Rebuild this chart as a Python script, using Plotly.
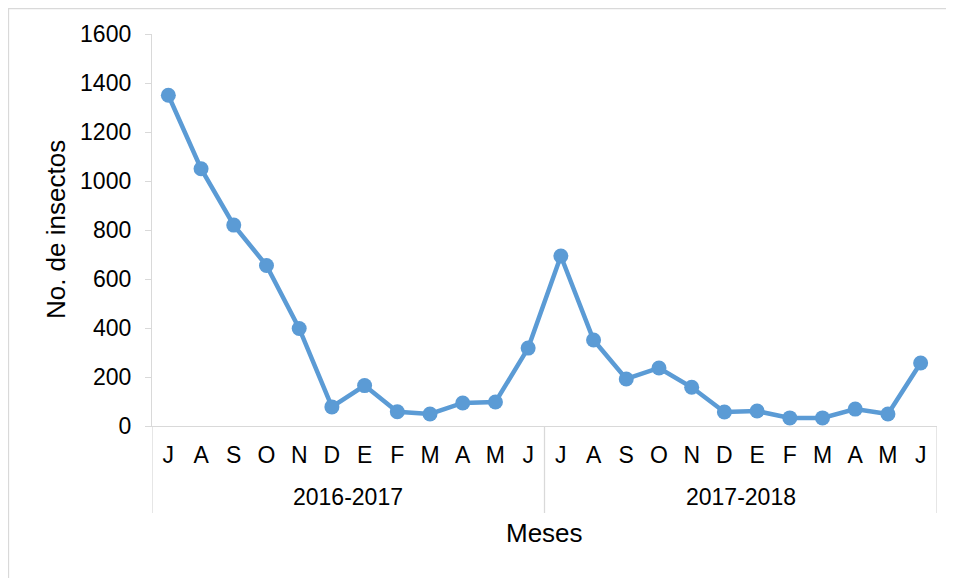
import plotly.graph_objects as go

months = ["J", "A", "S", "O", "N", "D", "E", "F", "M", "A", "M", "J",
          "J", "A", "S", "O", "N", "D", "E", "F", "M", "A", "M", "J"]
seasons = ["2016-2017", "2017-2018"]
insectos = [1350, 1050, 820, 655, 398, 78, 165, 58, 49, 94, 98, 318,
            694, 351, 192, 237, 158, 57, 61, 33, 33, 69, 49, 257]
y_ticks = [0, 200, 400, 600, 800, 1000, 1200, 1400, 1600]

x_idx = list(range(len(months)))
FONT = "Arial, Liberation Sans, sans-serif"
GRAY = "#d9d9d9"

fig = go.Figure()
fig.add_trace(go.Scatter(
    x=x_idx, y=insectos, mode="lines+markers",
    line=dict(color="#5b9bd5", width=4.5),
    marker=dict(color="#5b9bd5", size=15),
    showlegend=False, hoverinfo="skip"))

n_per = len(months) // len(seasons)
group_bottom = -0.222
shapes = []
for k in range(len(seasons) + 1):
    xv = -0.5 + k * n_per
    shapes.append(dict(type="line", xref="x", yref="paper", x0=xv, x1=xv,
                       y0=0, y1=group_bottom, line=dict(color=GRAY, width=1.3)))
shapes.append(dict(type="rect", xref="paper", yref="paper",
                   x0=-0.1828, x1=1.0178, y0=-0.40, y1=1.065,
                   line=dict(color=GRAY, width=1.3)))

annotations = []
for k, s in enumerate(seasons):
    annotations.append(dict(x=k * n_per + (n_per - 1) / 2, xref="x",
                            y=-0.1811, yref="paper", text=s, showarrow=False,
                            font=dict(family=FONT, size=23, color="black"),
                            xanchor="center", yanchor="middle"))
annotations.append(dict(x=0.5, xref="paper", y=-0.273, yref="paper",
                        text="Meses", showarrow=False,
                        font=dict(family=FONT, size=26, color="black"),
                        xanchor="center", yanchor="middle"))
annotations.append(dict(x=-0.1222, xref="paper", y=0.5, yref="paper",
                        text="No. de insectos", showarrow=False, textangle=-90,
                        font=dict(family=FONT, size=26, color="black"),
                        xanchor="center", yanchor="middle"))

fig.update_layout(
    width=946, height=570,
    margin=dict(l=144, r=17, t=26, b=152),
    paper_bgcolor="white", plot_bgcolor="white",
    font=dict(family=FONT, size=23, color="black"),
    xaxis=dict(range=[-0.5, len(months) - 0.5], tickmode="array",
               tickvals=x_idx, ticktext=months, showgrid=False,
               zeroline=False, showline=True, linecolor=GRAY, linewidth=1.3,
               ticks="outside", ticklen=0, tickcolor="rgba(0,0,0,0)",
               ticklabelstandoff=8, tickfont=dict(family=FONT, size=23)),
    yaxis=dict(range=[0, 1600], tickmode="array", tickvals=y_ticks,
               showgrid=False, zeroline=False, showline=True, linecolor=GRAY,
               linewidth=1.3, ticks="outside", ticklen=6, tickcolor=GRAY,
               ticklabelstandoff=9, tickfont=dict(family=FONT, size=23)),
    shapes=shapes, annotations=annotations,
)

fig.write_html("out.html")
